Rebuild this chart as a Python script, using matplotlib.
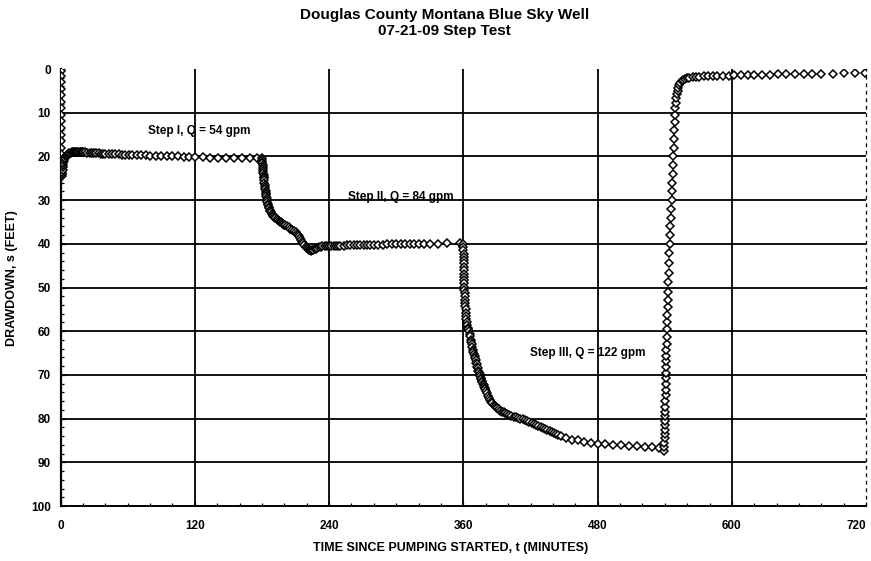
import matplotlib.pyplot as plt
from matplotlib.ticker import MultipleLocator

plt.rcParams['font.family'] = ['Liberation Sans', 'DejaVu Sans']

# Step I, Q = 54 gpm
step1_t = [0, 0.02, 0.05, 0.08, 0.1, 0.15, 0.2, 0.25, 0.3, 0.35, 0.4, 0.5, 0.6, 0.7,
           0.8, 0.9, 1.0, 1.2, 1.4, 1.6, 1.8, 2.0, 2.3, 2.6, 3.0, 3.5, 4, 4.5, 5, 5.5,
           6, 6.5, 7, 7.5, 8, 9, 10, 11, 12, 13, 14, 15, 16, 17, 18, 19, 20, 22, 24,
           26, 28, 30, 32, 34, 36, 38, 40, 43, 46, 49, 52, 55, 58, 61, 64, 68, 72, 76,
           80, 85, 90, 95, 100, 105, 110, 115, 120, 127, 134, 141, 148, 155, 162, 169,
           176]
step1_s = [0.5, 1.5, 3, 4.5, 6, 7.5, 9, 10.5, 12, 13.5, 15, 16.5, 18, 19.5,
           21, 22.5, 24, 24.5, 24, 23.5, 23, 22.5, 22, 21.5, 21, 20.6, 20.3, 20.0, 19.8, 19.7,
           19.6, 19.5, 19.4, 19.35, 19.3, 19.2, 19.1, 19.1, 19.0, 19.0, 19.0, 19.0, 19.0, 19.0, 19.0, 19.1, 19.1, 19.1, 19.2,
           19.2, 19.2, 19.3, 19.3, 19.3, 19.4, 19.4, 19.4, 19.5, 19.5, 19.5, 19.5, 19.6, 19.6, 19.6, 19.6, 19.7, 19.7, 19.7,
           19.8, 19.8, 19.9, 19.9, 20.0, 20.0, 20.1, 20.1, 20.2, 20.2, 20.3, 20.3, 20.3, 20.3, 20.3, 20.3,
           20.3]

# Step II, Q = 84 gpm
step2_t = [180.0, 180.15, 180.3, 180.45, 180.6, 180.75, 180.9, 181.05, 181.2, 181.4,
           181.6, 181.8, 182.0, 182.25, 182.5, 182.75, 183.0, 183.25, 183.5, 183.75,
           184.0, 184.3, 184.6, 184.95, 185.3, 185.65, 186.0, 186.5, 187.0, 187.5,
           188.0, 188.7, 189.5, 190.2, 191, 192, 193, 194, 195, 196, 197, 198, 199,
           200, 201, 202.5, 204, 205.5, 207, 208.5, 210, 211, 212, 213, 214, 215, 216,
           217, 218, 219, 220, 221, 222, 223, 224, 225, 226, 227, 228, 229.5, 231,
           232.5, 234, 236, 238, 240, 242, 244, 246, 248, 250, 253, 256, 259, 262, 265,
           268, 271, 274, 277, 280, 284, 288, 292, 296, 300, 304, 308, 312, 316, 320,
           325, 330, 337, 345, 357]
step2_s = [20.3, 20.8, 21.2, 21.6, 22.0, 22.5, 22.9, 23.3, 23.7, 24.2,
           24.6, 25.0, 25.5, 26.0, 26.5, 27.0, 27.4, 27.9, 28.3, 28.7,
           29.1, 29.6, 30.0, 30.4, 30.8, 31.2, 31.5, 31.9, 32.2, 32.5,
           32.8, 33.1, 33.3, 33.6, 33.8, 34.1, 34.3, 34.5, 34.7, 34.9, 35.1, 35.3, 35.5,
           35.7, 35.8, 36.0, 36.2, 36.5, 36.8, 37.1, 37.4, 37.7, 38.0, 38.3, 38.7, 39.1, 39.5,
           39.9, 40.3, 40.7, 41.0, 41.2, 41.4, 41.5, 41.6, 41.5, 41.4, 41.3, 41.1, 40.9, 40.8,
           40.7, 40.6, 40.5, 40.5, 40.5, 40.4, 40.4, 40.4, 40.4, 40.4, 40.4, 40.3, 40.3, 40.3, 40.3,
           40.3, 40.2, 40.2, 40.2, 40.2, 40.2, 40.2, 40.1, 40.1, 40.1, 40.1, 40.1, 40.0, 40.0, 40.0,
           40.0, 40.0, 40.0, 39.9, 39.8]

# Step III, Q = 122 gpm
step3_t = [360.0, 360.05, 360.1, 360.15, 360.2, 360.25, 360.3, 360.35, 360.4, 360.5,
           360.6, 360.7, 360.8, 360.9, 361.0, 361.15, 361.3, 361.45, 361.6, 361.8,
           362.0, 362.25, 362.5, 362.75, 363.0, 363.5, 364, 364.5, 365, 365.5, 366,
           366.5, 367, 367.5, 368, 368.5, 369, 369.5, 370, 370.5, 371, 371.5, 372,
           372.5, 373, 373.5, 374, 374.5, 375, 375.5, 376, 376.5, 377, 377.5, 378, 378.5,
           379, 379.5, 380, 381, 382, 383, 384, 385, 386, 387, 388, 389, 390, 391.5, 393,
           394.5, 396, 397.5, 399, 401, 403, 405, 407, 409, 411, 413, 415, 417, 419,
           421, 423, 425, 427, 429, 431, 433, 435, 437, 439, 441, 443, 445, 447, 452,
           457, 462, 468, 474, 480, 487, 494, 501, 508, 515, 522, 529, 535]
step3_s = [40.0, 40.8, 41.5, 42.3, 43.0, 43.8, 44.5, 45.3, 46.0, 46.8,
           47.5, 48.3, 49.0, 49.8, 50.5, 51.3, 52.0, 52.8, 53.5, 54.3,
           55.0, 55.8, 56.5, 57.3, 58.0, 58.6, 59.2, 59.6, 60.0, 60.6, 61.2,
           61.9, 62.5, 63.0, 63.6, 64.2, 64.7, 65.2, 65.7, 66.2, 66.7, 67.2, 67.6,
           68.1, 68.5, 69.0, 69.4, 69.8, 70.2, 70.6, 71.0, 71.3, 71.6, 72.0, 72.3, 72.7,
           73.0, 73.3, 73.6, 74.2, 74.8, 75.3, 75.8, 76.2, 76.5, 76.8, 77.1, 77.4, 77.6, 77.9, 78.2,
           78.4, 78.6, 78.8, 79.0, 79.2, 79.4, 79.6, 79.7, 79.9, 80.0, 80.2, 80.3, 80.5, 80.7,
           81.0, 81.2, 81.4, 81.6, 81.9, 82.1, 82.4, 82.6, 82.9, 83.1, 83.4, 83.6, 83.8, 84.0, 84.4,
           84.8, 85.0, 85.3, 85.5, 85.7, 85.9, 86.0, 86.1, 86.2, 86.3, 86.4, 86.6, 86.8]

# Recovery
rec_t = [539.5, 539.6, 539.7, 539.8, 539.9, 540.0, 540.1, 540.2, 540.3, 540.4, 540.5,
         540.6, 540.7, 540.8, 540.9, 541.0, 541.1, 541.2, 541.3, 541.4, 541.5, 541.6,
         541.8, 542.0, 542.2, 542.4, 542.6, 542.8, 543.0, 543.3, 543.6, 543.9, 544.2,
         544.5, 544.8, 545.1, 545.4, 545.7, 546.0, 546.3, 546.6, 546.9, 547.2, 547.5,
         547.8, 548.1, 548.4, 548.7, 549.0, 549.4, 549.8, 550.3, 550.8, 551.5, 552.2,
         553, 554, 555, 556.5, 558, 560, 562, 565, 568, 571, 575, 579, 583, 587, 592,
         597, 602, 608, 614, 620, 627, 634, 641, 648, 656, 664, 672, 680, 690, 700,
         710, 719]
rec_s = [87.5, 86.5, 85.5, 84.5, 83.5, 82.5, 81.5, 80.5, 79.5, 78.5, 77.3,
         76.0, 74.7, 73.4, 72.1, 70.8, 69.5, 68.2, 66.9, 65.6, 64.3, 63.0,
         61.3, 59.6, 57.9, 56.2, 54.5, 52.8, 51.0, 48.8, 46.6, 44.4, 42.2,
         40.0, 38.0, 36.0, 34.0, 32.0, 30.0, 28.0, 26.0, 24.0, 22.0, 20.0,
         18.0, 16.0, 14.0, 12.2, 10.5, 9.0, 7.8, 6.7, 5.8, 5.0, 4.3,
         3.7, 3.2, 2.8, 2.5, 2.3, 2.1, 2.0, 1.9, 1.8, 1.75, 1.7, 1.65, 1.6, 1.55, 1.5,
         1.5, 1.45, 1.4, 1.4, 1.35, 1.3, 1.3, 1.25, 1.2, 1.2, 1.15, 1.1, 1.1, 1.05, 1.0,
         1.0, 1.0]

x_ticks = [0, 120, 240, 360, 480, 600, 720]
y_ticks = [0, 10, 20, 30, 40, 50, 60, 70, 80, 90, 100]

fig = plt.figure(figsize=(8.71, 5.61), dpi=100)
ax = fig.add_axes([0.0695, 0.098, 0.925, 0.779])

# grid drawn as plain black lines like the scanned original
for y in y_ticks[1:-1]:
    ax.axhline(y, color='black', lw=1.3, zorder=1)
for x in x_ticks[1:-1]:
    ax.axvline(x, color='black', lw=1.3, zorder=1)

for t, s in [(step1_t, step1_s), (step2_t, step2_s), (step3_t, step3_s), (rec_t, rec_s)]:
    ax.plot(t, s, linestyle='none', marker='D', markersize=3.6,
            markerfacecolor='white', markeredgecolor='black',
            markeredgewidth=1.1, zorder=3)

ax.set_xlim(0, 720)
ax.set_ylim(100, 0)
ax.set_xticks(x_ticks)
ax.set_yticks(y_ticks)
ax.xaxis.set_minor_locator(MultipleLocator(20))
ax.yaxis.set_minor_locator(MultipleLocator(2))
ax.tick_params(axis='both', which='both', direction='in', length=3, width=0.9,
               labelsize=8.5)
ax.tick_params(axis='x', which='major', pad=10)
ax.tick_params(axis='y', which='major', pad=7)
ax.tick_params(axis='both', which='minor', length=2)
for lab in ax.get_xticklabels() + ax.get_yticklabels():
    lab.set_fontweight('bold')
# last label sits at the figure edge, keep it inside
ax.get_xticklabels()[-1].set_horizontalalignment('right')

ax.spines['left'].set_linewidth(1.6)
ax.spines['bottom'].set_linewidth(1.4)
ax.spines['right'].set_linestyle((0, (2, 4)))
ax.spines['right'].set_linewidth(0.9)
ax.spines['top'].set_visible(False)

ax.text(124, 14.3, 'Step I, Q = 54 gpm', fontsize=8.5, fontweight='bold',
        ha='center', va='center')
ax.text(304, 29.4, 'Step II, Q = 84 gpm', fontsize=8.5, fontweight='bold',
        ha='center', va='center')
ax.text(471, 65, 'Step III, Q = 122 gpm', fontsize=8.5, fontweight='bold',
        ha='center', va='center')

fig.text(0.510, 0.973, 'Douglas County Montana Blue Sky Well', fontsize=11,
         fontweight='bold', ha='center', va='center')
fig.text(0.510, 0.944, '07-21-09 Step Test', fontsize=11,
         fontweight='bold', ha='center', va='center')
fig.text(0.517, 0.023, 'TIME SINCE PUMPING STARTED, t (MINUTES)', fontsize=9,
         fontweight='bold', ha='center', va='center')
fig.text(0.014, 0.505, 'DRAWDOWN, s (FEET)', fontsize=9, fontweight='bold',
         rotation=90, ha='center', va='center')

fig.savefig('out.png', dpi=100)
